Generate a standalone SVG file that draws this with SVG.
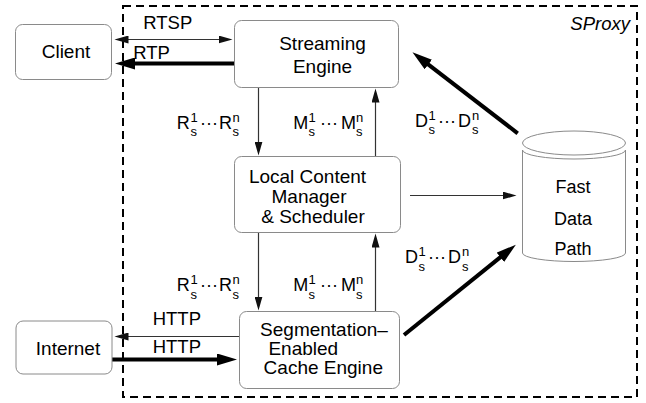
<svg xmlns="http://www.w3.org/2000/svg" width="646" height="403" viewBox="0 0 646 403">
  <defs>
    <style>
      text { font-family: "Liberation Sans", Arial, Helvetica, sans-serif; fill: #000; }
      .box { fill: #fff; stroke: #8a8a8a; stroke-width: 1; }
      .lbl { font-size: 19px; text-anchor: middle; }
      .proto { font-size: 18.5px; }
      .sym { font-size: 18px; }
      .ss { font-size: 13px; }
      .thin { fill: none; stroke: #333; stroke-width: 1.2; }
      .thick { fill: none; stroke: #000; stroke-width: 4; }
    </style>
    <!-- arrowheads anchored at their base; the tip extends past the line end -->
    <marker id="headThin" markerUnits="userSpaceOnUse" markerWidth="15" markerHeight="8" refX="0.5" refY="4" orient="auto-start-reverse">
      <path d="M0,0 L14,4 L0,8 Z" fill="#111"/>
    </marker>
    <marker id="headThick" markerUnits="userSpaceOnUse" markerWidth="21" markerHeight="12" refX="1" refY="6" orient="auto-start-reverse">
      <path d="M0,0 L20,6 L0,12 Z" fill="#000"/>
    </marker>
  </defs>

  <rect width="646" height="403" fill="#fff"/>

  <!-- proxy boundary -->
  <g id="sproxy">
    <rect x="123" y="6" width="514" height="391" fill="none" stroke="#000" stroke-width="2" stroke-dasharray="8 5"/>
    <text x="630" y="30" font-size="18.5" font-style="italic" text-anchor="end">SProxy</text>
  </g>

  <!-- connectors -->
  <g id="connectors">
    <path class="thin" d="M128,39.5 H219" marker-start="url(#headThin)" marker-end="url(#headThin)"/>
    <path class="thick" d="M234,63.5 H134" marker-end="url(#headThick)"/>
    <path class="thin" d="M258.5,88 V142" marker-end="url(#headThin)"/>
    <path class="thin" d="M375.5,156 V102" marker-end="url(#headThin)"/>
    <path class="thin" d="M258.5,233 V297" marker-end="url(#headThin)"/>
    <path class="thin" d="M375.5,311 V247" marker-end="url(#headThin)"/>
    <path class="thin" d="M410,195.5 H503" marker-end="url(#headThin)"/>
    <path class="thin" d="M239,336.5 H128" marker-end="url(#headThin)"/>
    <path class="thick" d="M112,359.5 H218" marker-end="url(#headThick)"/>
    <path class="thick" d="M517.7,133.3 L427.5,63.9" marker-end="url(#headThick)"/>
    <path class="thick" d="M404,335 L501.1,256.6" marker-end="url(#headThick)"/>

    <text class="proto" x="143.3" y="29">RTSP</text>
    <text class="proto" x="133.3" y="59">RTP</text>
    <text class="proto" x="152.7" y="325">HTTP</text>
    <text class="proto" x="152.7" y="353">HTTP</text>

    <!-- request / metadata / data streams -->
    <g id="lbl-r-top">
      <text class="sym" x="176.7" y="128.5">R</text>
      <text class="ss" x="190.5" y="121.5">1</text>
      <text class="ss" x="190.5" y="136">s</text>
      <text class="sym" x="200" y="128.5">···</text>
      <text class="sym" x="219" y="128.5">R</text>
      <text class="ss" x="232.5" y="121.5">n</text>
      <text class="ss" x="232.5" y="136">s</text>
    </g>
    <g id="lbl-m-top">
      <text class="sym" x="293.3" y="128.5">M</text>
      <text class="ss" x="308.5" y="121.5">1</text>
      <text class="ss" x="308.5" y="136">s</text>
      <text class="sym" x="320" y="128.5">···</text>
      <text class="sym" x="341" y="128.5">M</text>
      <text class="ss" x="356" y="121.5">n</text>
      <text class="ss" x="356" y="136">s</text>
    </g>
    <g id="lbl-d-top">
      <text class="sym" x="415" y="126.7">D</text>
      <text class="ss" x="428.5" y="119.7">1</text>
      <text class="ss" x="428.5" y="134.2">s</text>
      <text class="sym" x="438" y="126.7">···</text>
      <text class="sym" x="458" y="126.7">D</text>
      <text class="ss" x="472" y="119.7">n</text>
      <text class="ss" x="472" y="134.2">s</text>
    </g>
    <g id="lbl-r-bottom">
      <text class="sym" x="176.7" y="291">R</text>
      <text class="ss" x="190.5" y="284">1</text>
      <text class="ss" x="190.5" y="298.5">s</text>
      <text class="sym" x="200" y="291">···</text>
      <text class="sym" x="219" y="291">R</text>
      <text class="ss" x="232.5" y="284">n</text>
      <text class="ss" x="232.5" y="298.5">s</text>
    </g>
    <g id="lbl-m-bottom">
      <text class="sym" x="293.3" y="291">M</text>
      <text class="ss" x="308.5" y="284">1</text>
      <text class="ss" x="308.5" y="298.5">s</text>
      <text class="sym" x="320" y="291">···</text>
      <text class="sym" x="341" y="291">M</text>
      <text class="ss" x="356" y="284">n</text>
      <text class="ss" x="356" y="298.5">s</text>
    </g>
    <g id="lbl-d-bottom">
      <text class="sym" x="405" y="263.3">D</text>
      <text class="ss" x="418.5" y="256.3">1</text>
      <text class="ss" x="418.5" y="270.8">s</text>
      <text class="sym" x="428" y="263.3">···</text>
      <text class="sym" x="448" y="263.3">D</text>
      <text class="ss" x="462" y="256.3">n</text>
      <text class="ss" x="462" y="270.8">s</text>
    </g>
  </g>

  <g id="client">
    <rect class="box" x="15.5" y="24.5" width="96" height="55" rx="7"/>
    <text class="lbl" x="66" y="58">Client</text>
  </g>

  <g id="internet">
    <rect class="box" x="16" y="321" width="96" height="53" rx="7"/>
    <text class="lbl" x="68" y="355">Internet</text>
  </g>

  <g id="streaming-engine">
    <rect class="box" x="234.5" y="20.5" width="164" height="67" rx="7"/>
    <text class="lbl" x="322.5" y="50">Streaming</text>
    <text class="lbl" x="322.5" y="73">Engine</text>
  </g>

  <g id="local-content-manager">
    <rect class="box" x="234.5" y="156.5" width="166" height="76" rx="7"/>
    <text class="lbl" x="307.5" y="183">Local Content</text>
    <text class="lbl" x="309" y="203">Manager</text>
    <text class="lbl" x="313" y="223">&amp; Scheduler</text>
  </g>

  <g id="cache-engine">
    <rect class="box" x="239.5" y="311.5" width="160" height="77" rx="7"/>
    <text class="lbl" x="324" y="335.5">Segmentation–</text>
    <text class="lbl" x="303.3" y="355">Enabled</text>
    <text class="lbl" x="323.3" y="374">Cache Engine</text>
  </g>

  <g id="fast-data-path">
    <path class="box" d="M522.5,150 V253 A51.5,8.5 0 0 0 625.5,253 V150 A51.5,9 0 0 1 522.5,150 Z"/>
    <ellipse class="box" cx="574" cy="143" rx="51.5" ry="12"/>
    <text x="573" y="193" font-size="18" text-anchor="middle">Fast</text>
    <text x="573" y="225" font-size="18" text-anchor="middle">Data</text>
    <text x="573" y="255" font-size="18" text-anchor="middle">Path</text>
  </g>
</svg>
